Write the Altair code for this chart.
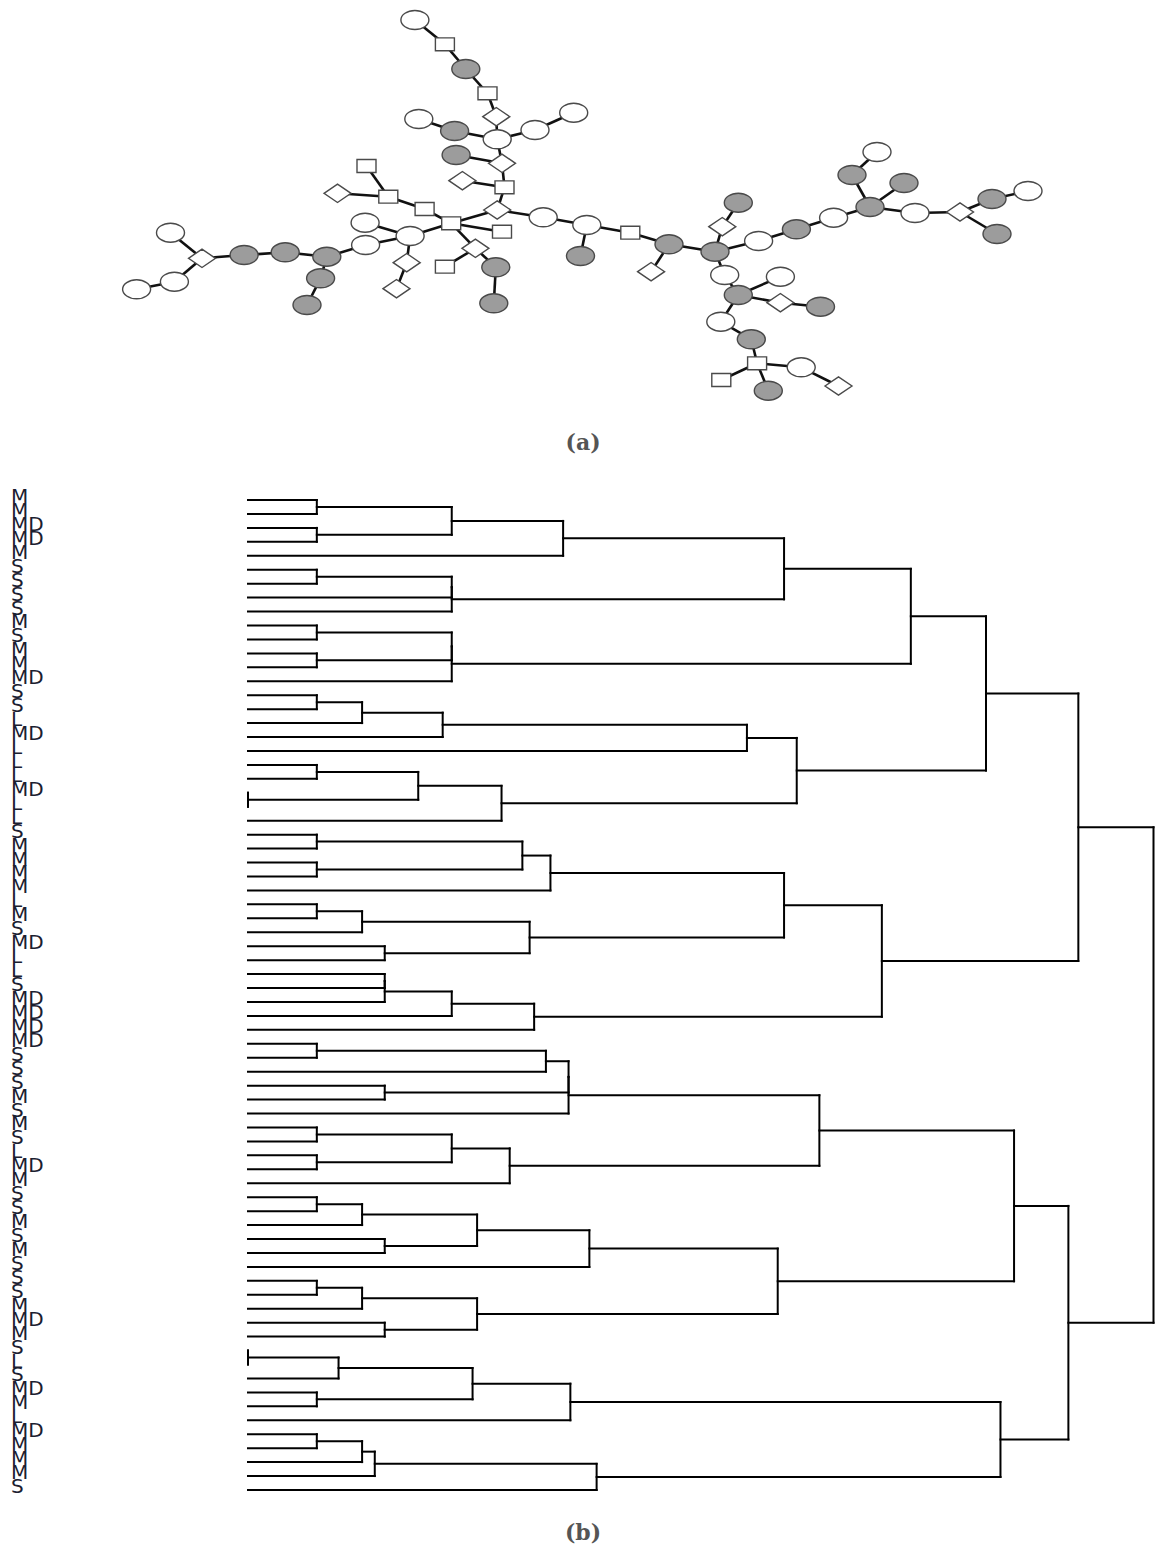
import altair as alt
import pandas as pd

# ---------------------------------------------------------------- (a) network
# layout coordinates of the nodes (layout units) and their kind
node_x = [30.49, 33.49, 35.58, 37.75, 38.63, 46.37, 42.50, 30.88, 34.46, 38.72,
          34.61, 39.20, 35.24, 39.45, 25.65, 22.75, 27.83, 31.46, 38.72, 43.32,
          47.68, 52.03, 47.05, 55.90, 54.11, 60.50, 62.83, 61.23, 64.86, 68.64,
          72.36, 76.00, 74.20, 76.70, 34.12, 39.20, 36.54, 33.49, 38.58, 38.38,
          25.51, 30.01, 25.56, 29.67, 28.65, 21.68, 21.06, 19.70, 17.52, 13.41,
          9.20, 6.05, 6.44, 2.66, 61.47, 62.83, 67.04, 67.04, 71.05, 61.08,
          64.13, 64.71, 61.13, 65.83, 69.12, 72.85, 79.40, 80.50, 85.00, 88.20,
          91.80, 88.70]
node_y = [2.00, 4.43, 6.90, 9.33, 11.67, 11.27, 13.00, 11.90, 13.10, 13.93,
          15.50, 16.33, 18.07, 18.73, 16.60, 19.33, 19.67, 20.90, 21.00, 21.73,
          22.50, 23.27, 25.60, 24.43, 27.17, 25.17, 20.27, 22.67, 24.10, 22.93,
          21.77, 20.70, 17.50, 15.20, 22.33, 23.17, 24.83, 26.67, 26.73, 30.33,
          22.27, 23.60, 24.50, 26.27, 28.87, 25.67, 27.83, 30.50, 25.23, 25.50,
          25.83, 23.27, 28.17, 28.93, 27.50, 29.50, 27.67, 30.27, 30.67, 32.17,
          33.93, 36.33, 38.00, 39.07, 36.73, 38.60, 18.30, 21.30, 21.20, 19.90,
          19.10, 23.40]
node_kind = ["white", "square", "gray", "square", "diamond", "white", "white", "white", "gray", "white",
             "gray", "diamond", "diamond", "square", "square", "diamond", "square", "square", "diamond", "white",
             "white", "square", "gray", "gray", "diamond", "gray", "gray", "diamond", "white", "gray",
             "white", "gray", "gray", "white", "square", "square", "diamond", "square", "gray", "gray",
             "white", "white", "white", "diamond", "diamond", "gray", "gray", "gray", "gray", "gray",
             "diamond", "white", "white", "white", "white", "gray", "white", "diamond", "gray", "white",
             "gray", "square", "square", "gray", "white", "diamond", "gray", "white", "diamond", "gray",
             "white", "gray"]

# edges, as 1-based node numbers
edge_src = [1, 2, 3, 4, 5, 10, 7, 10, 9, 10, 12, 12, 14, 14,
            19, 19, 20, 21, 21, 22, 24, 24,
            26, 28, 26, 29, 30, 31, 32, 33, 32, 32, 68, 69, 70, 69,
            26, 55, 56, 56, 58, 56, 60, 61, 62, 62, 62, 65,
            35, 18, 17, 17, 35, 35, 37, 37, 39,
            35, 42, 42, 44, 42, 43, 46, 47, 46, 49, 50, 51, 51, 53]
edge_dst = [2, 3, 4, 5, 10, 7, 6, 9, 8, 12, 11, 14, 13, 19,
            35, 20, 21, 22, 23, 24, 25, 26,
            28, 27, 29, 30, 31, 32, 33, 34, 67, 68, 69, 70, 71, 72,
            55, 56, 57, 58, 59, 60, 61, 62, 63, 64, 65, 66,
            18, 17, 15, 16, 36, 37, 38, 39, 40,
            42, 41, 44, 45, 43, 46, 47, 48, 49, 50, 51, 52, 53, 54]

# ------------------------------------------------------------- (b) dendrogram
leaf_labels = ["M", "M", "MD", "MD", "M", "S", "S", "S", "S", "M",
               "S", "M", "M", "MD", "S", "S", "L", "MD", "L", "L",
               "L", "MD", "L", "L", "S", "M", "M", "M", "M", "L",
               "M", "S", "MD", "L", "L", "S", "MD", "MD", "MD", "MD",
               "S", "S", "S", "M", "S", "M", "S", "L", "MD", "M",
               "S", "S", "M", "S", "M", "S", "S", "S", "M", "MD",
               "M", "S", "L", "S", "MD", "M", "L", "MD", "M", "M",
               "M", "S"]

# linkage: cluster 72 + k joins link_a[k] and link_b[k] at height link_h[k]
link_a = [0, 2, 72, 74, 5, 76, 77, 75, 9, 11, 80, 82, 79, 14, 85, 86, 87, 19, 21, 89,
          91, 88, 84, 24, 26, 95, 97, 29, 99, 32, 100, 98, 34, 104, 105, 106, 103, 94, 39, 110,
          42, 111, 113, 45, 47, 115, 117, 114, 50, 120, 53, 121, 123, 56, 125, 59, 126, 124, 119, 61,
          131, 64, 132, 134, 67, 136, 137, 138, 135, 130, 109]
link_b = [1, 3, 73, 4, 6, 7, 8, 78, 10, 12, 81, 13, 83, 15, 16, 17, 18, 20, 22, 90,
          23, 92, 93, 25, 27, 96, 28, 30, 31, 33, 101, 102, 35, 36, 37, 38, 107, 108, 40, 41,
          43, 112, 44, 46, 48, 116, 49, 118, 51, 52, 54, 122, 55, 57, 58, 60, 127, 128, 129, 62,
          63, 65, 133, 66, 68, 69, 70, 71, 139, 140, 141]
link_h = [0.76, 0.76, 2.25, 3.48, 0.76, 2.25, 2.25, 5.92, 0.76, 0.76, 2.25, 2.25, 7.32,
          0.76, 1.26, 2.15, 5.51, 0.76, 0.0, 1.88, 2.80, 6.06, 8.15, 0.76, 0.76, 3.03,
          3.34, 0.76, 1.26, 1.51, 3.11, 5.92, 1.51, 1.51, 2.25, 3.16, 7.00, 9.17, 0.76,
          3.29, 1.51, 3.54, 3.54, 0.76, 0.76, 2.25, 2.89, 6.31, 0.76, 1.26, 1.51, 2.53,
          3.77, 0.76, 1.26, 1.51, 2.53, 5.85, 8.46, 0.0, 1.00, 0.76, 2.48, 3.56, 0.76,
          1.26, 1.40, 3.85, 8.31, 9.06, 10.0]

# ------------------------------------------------------------------ tables
nodes = pd.DataFrame({"x": node_x, "y": node_y, "kind": node_kind})
edges = pd.DataFrame({
    "x": [node_x[s - 1] for s in edge_src],
    "y": [node_y[s - 1] for s in edge_src],
    "x2": [node_x[d - 1] for d in edge_dst],
    "y2": [node_y[d - 1] for d in edge_dst],
})

n_leaves = len(leaf_labels)
pos = {i: (0.0, float(i)) for i in range(n_leaves)}
segs = []
for k, (a, b, h) in enumerate(zip(link_a, link_b, link_h)):
    ha, ya = pos[a]
    hb, yb = pos[b]
    segs.append({"h1": ha, "h2": h, "v1": ya, "v2": ya})
    segs.append({"h1": hb, "h2": h, "v1": yb, "v2": yb})
    segs.append({"h1": h, "h2": h, "v1": ya, "v2": yb})
    pos[n_leaves + k] = (h, (ya + yb) / 2.0)
segments = pd.DataFrame(segs)
leaves = pd.DataFrame({"leaf": list(range(n_leaves)), "label": leaf_labels})

# ------------------------------------------------------------------ scales
net_x = alt.Scale(domain=[0, 100], range=[110, 1110], nice=False, zero=False)
net_y = alt.Scale(domain=[0, 41], range=[0, 410], nice=False, zero=False)
den_x = alt.Scale(domain=[0, 10], range=[248, 1153.5], nice=False, zero=False)
den_y = alt.Scale(domain=[0, n_leaves - 1], range=[500, 1490], nice=False, zero=False)

# node glyphs: flattened ellipses, rectangles and diamonds
ELLIPSE = ("M1,0C1,0.3756,0.5523,0.68,0,0.68C-0.5523,0.68,-1,0.3756,-1,0"
           "C-1,-0.3756,-0.5523,-0.68,0,-0.68C0.5523,-0.68,1,-0.3756,1,0Z")
RECT = "M-1,-0.68L1,-0.68L1,0.68L-1,0.68Z"
RHOMB = "M-1,0L0,-0.68L1,0L0,0.68Z"

edge_layer = alt.Chart(edges).mark_rule(color="#111111", strokeWidth=2.6).encode(
    x=alt.X("x:Q", scale=net_x, axis=None),
    y=alt.Y("y:Q", scale=net_y, axis=None),
    x2="x2:Q",
    y2="y2:Q",
)


def node_layer(kind, shape, size, fill):
    return alt.Chart(nodes).transform_filter(alt.datum.kind == kind).mark_point(
        shape=shape, size=size, filled=True, fill=fill, stroke="#4a4a4a",
        strokeWidth=1.4, opacity=1,
    ).encode(
        x=alt.X("x:Q", scale=net_x, axis=None),
        y=alt.Y("y:Q", scale=net_y, axis=None),
    )


white_nodes = node_layer("white", ELLIPSE, 784, "#ffffff")
gray_nodes = node_layer("gray", ELLIPSE, 784, "#9c9c9c")
square_nodes = node_layer("square", RECT, 361, "#ffffff")
diamond_nodes = node_layer("diamond", RHOMB, 729, "#ffffff")

tree_layer = alt.Chart(segments).mark_rule(
    color="#000000", strokeWidth=2, strokeCap="square"
).encode(
    x=alt.X("h1:Q", scale=den_x, axis=None),
    x2="h2:Q",
    y=alt.Y("v1:Q", scale=den_y, axis=None),
    y2="v2:Q",
)

label_layer = alt.Chart(leaves).mark_text(
    align="left", baseline="middle", dy=-3, font="DejaVu Sans",
    fontSize=20, color="#1b2030",
).encode(
    x=alt.value(11),
    y=alt.Y("leaf:Q", scale=den_y, axis=None),
    text="label:N",
)

captions = pd.DataFrame({"text": ["(a)", "(b)"], "row": [0, 1]})
cap_y = alt.Scale(domain=[0, 1], range=[443, 1533], nice=False, zero=False)
caption_layer = alt.Chart(captions).mark_text(
    align="center", baseline="middle", font="DejaVu Serif", fontSize=22,
    fontWeight="bold", color="#555555",
).encode(
    x=alt.value(583),
    y=alt.Y("row:Q", scale=cap_y, axis=None),
    text="text:N",
)

chart = alt.layer(
    edge_layer, white_nodes, gray_nodes, square_nodes, diamond_nodes,
    tree_layer, label_layer, caption_layer,
).resolve_scale(
    x="independent", y="independent"
).properties(
    width=1156, height=1553, padding=0,
    autosize=alt.AutoSizeParams(type="none"),
    background="white",
).configure_view(stroke=None)

chart.save("out.html", embed_options={"renderer": "svg", "actions": False})
